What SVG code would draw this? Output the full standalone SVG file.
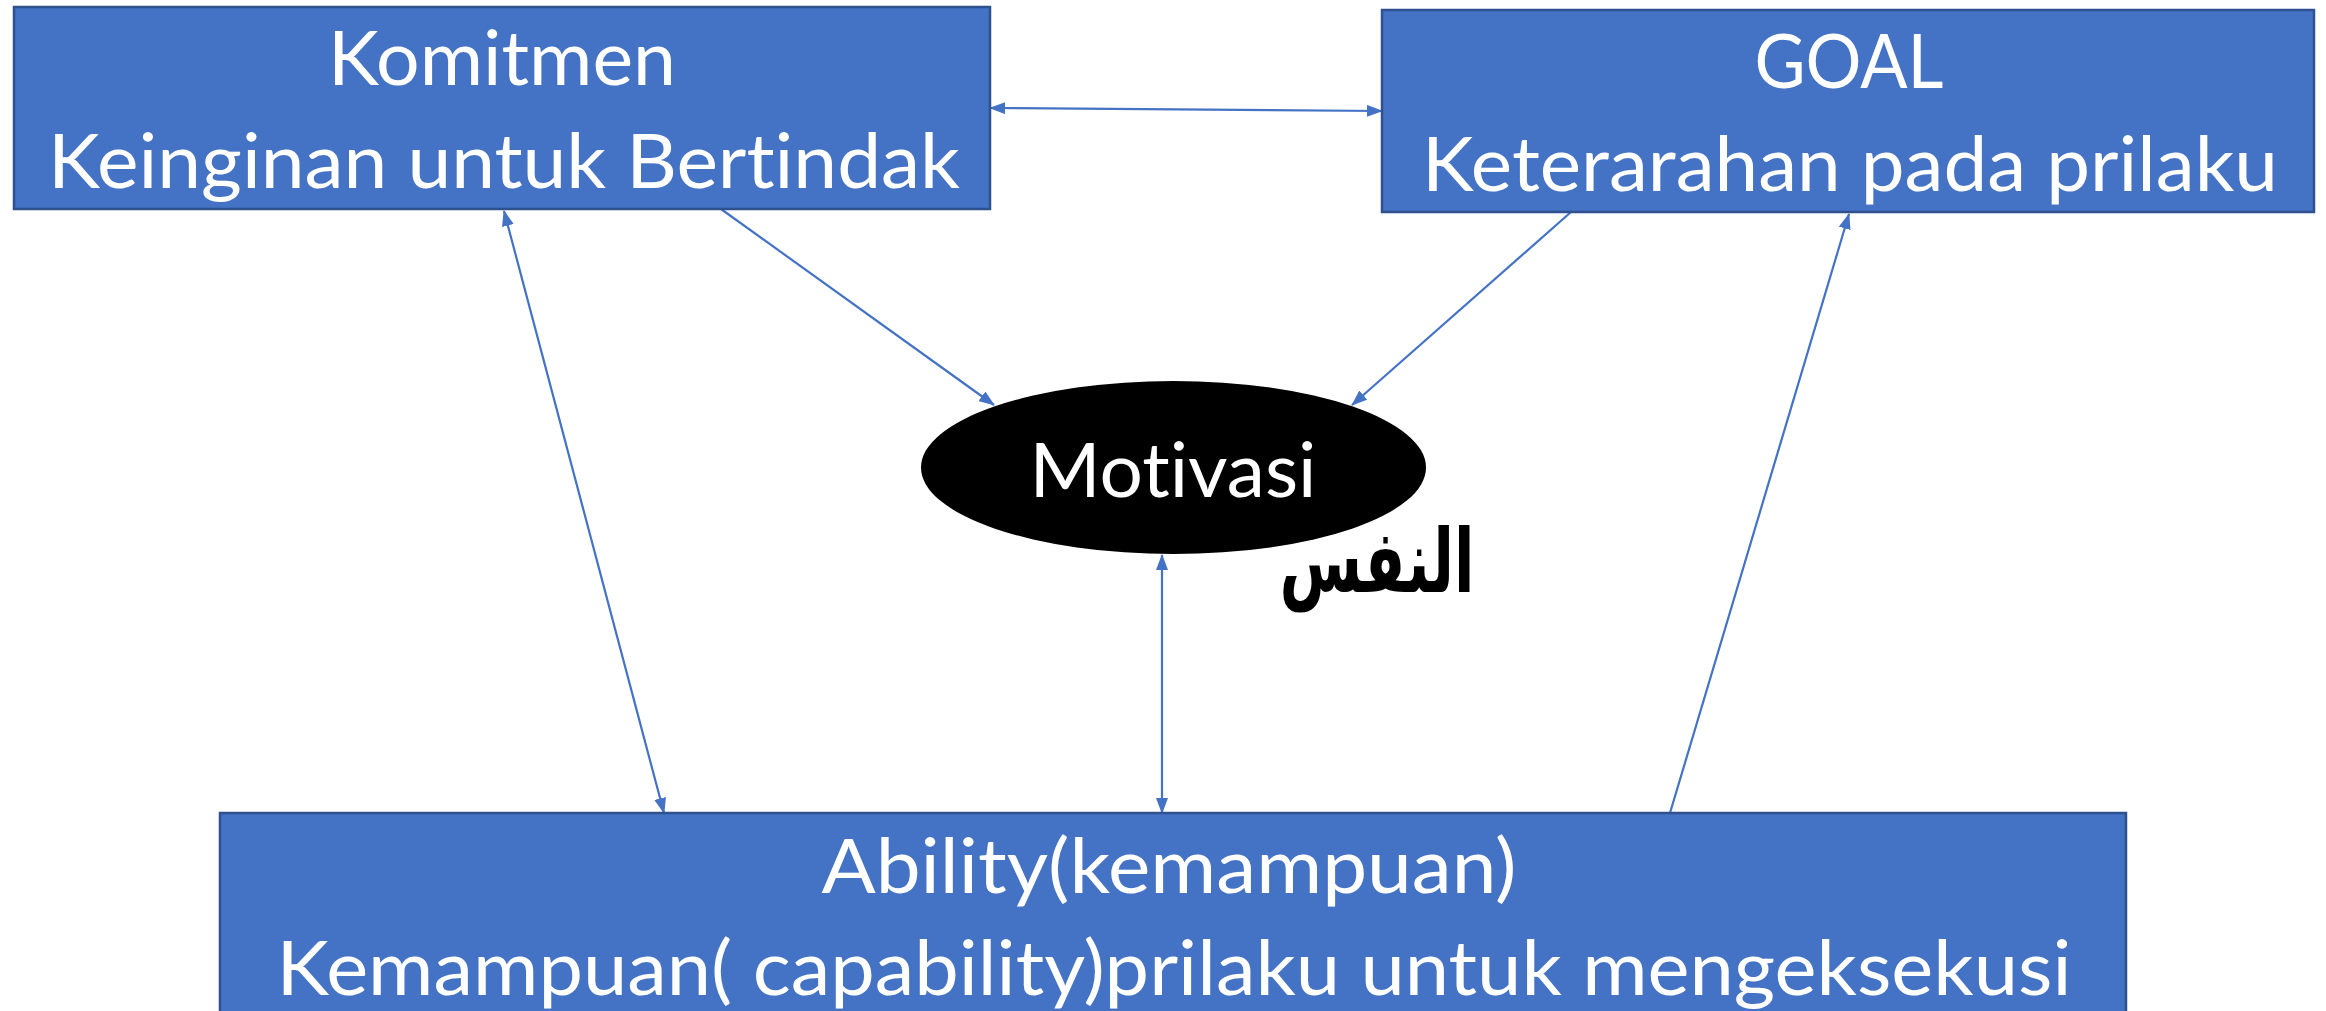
<svg xmlns="http://www.w3.org/2000/svg" width="2326" height="1011" viewBox="0 0 2326 1011">
  <style>
    .box { fill: #4472C4; stroke: #2F528F; stroke-width: 2.5; }
    .lbl { fill: #FFFFFF; font-family: Lato, "Open Sans", "Liberation Sans", sans-serif; font-size: 75px; text-anchor: middle; font-variant-ligatures: none; }
    .link { stroke: #4472C4; stroke-width: 2.2; fill: none; }
  </style>
  <defs>
    <marker id="head" viewBox="0 0 16 12" refX="15" refY="6" markerWidth="16" markerHeight="12" markerUnits="userSpaceOnUse" orient="auto-start-reverse">
      <path d="M0,0 L16,6 L0,12 Z" fill="#4472C4"/>
    </marker>
  </defs>

  <rect width="2326" height="1011" fill="#FFFFFF"/>

  <!-- connectors -->
  <g id="connectors">
    <line class="link" x1="990" y1="108" x2="1382" y2="111" marker-start="url(#head)" marker-end="url(#head)"/>
    <line class="link" x1="504" y1="211" x2="664" y2="813" marker-start="url(#head)" marker-end="url(#head)"/>
    <line class="link" x1="721" y1="209" x2="994" y2="405" marker-end="url(#head)"/>
    <line class="link" x1="1571" y1="212" x2="1352" y2="405" marker-end="url(#head)"/>
    <line class="link" x1="1162" y1="555" x2="1162" y2="813" marker-start="url(#head)" marker-end="url(#head)"/>
    <line class="link" x1="1670" y1="813" x2="1849" y2="214" marker-end="url(#head)"/>
  </g>

  <!-- Komitmen -->
  <g id="komitmen">
    <rect class="box" x="14" y="7" width="976" height="202"/>
    <text class="lbl" x="502" y="85" textLength="348" lengthAdjust="spacingAndGlyphs">Komitmen</text>
    <text class="lbl" x="504" y="188" textLength="912" lengthAdjust="spacingAndGlyphs">Keinginan untuk Bertindak</text>
  </g>

  <!-- GOAL -->
  <g id="goal">
    <rect class="box" x="1382" y="10" width="932" height="202"/>
    <text class="lbl" x="1849" y="88" textLength="189" lengthAdjust="spacingAndGlyphs">GOAL</text>
    <text class="lbl" x="1850" y="191" textLength="856" lengthAdjust="spacingAndGlyphs">Keterarahan pada prilaku</text>
  </g>

  <!-- Motivasi -->
  <g id="motivasi">
    <ellipse cx="1173.5" cy="467.5" rx="252.5" ry="86.5" fill="#000000"/>
    <text class="lbl" x="1173" y="497" textLength="287" lengthAdjust="spacingAndGlyphs">Motivasi</text>
  </g>

  <!-- Arabic caption under the ellipse -->
  <g id="annotation">
    <text transform="translate(1377,592) scale(0.68,1)" x="0" y="0" font-family="'DejaVu Sans', sans-serif" font-size="88" font-weight="bold" fill="#000000" text-anchor="middle" direction="rtl">النفس</text>
  </g>

  <!-- Ability -->
  <g id="ability">
    <rect class="box" x="220" y="813" width="1906" height="210"/>
    <text class="lbl" x="1169" y="893" textLength="695" lengthAdjust="spacingAndGlyphs">Ability(kemampuan)</text>
    <text class="lbl" x="1174" y="995" textLength="1795" lengthAdjust="spacingAndGlyphs">Kemampuan( capability)prilaku untuk mengeksekusi</text>
  </g>
</svg>
